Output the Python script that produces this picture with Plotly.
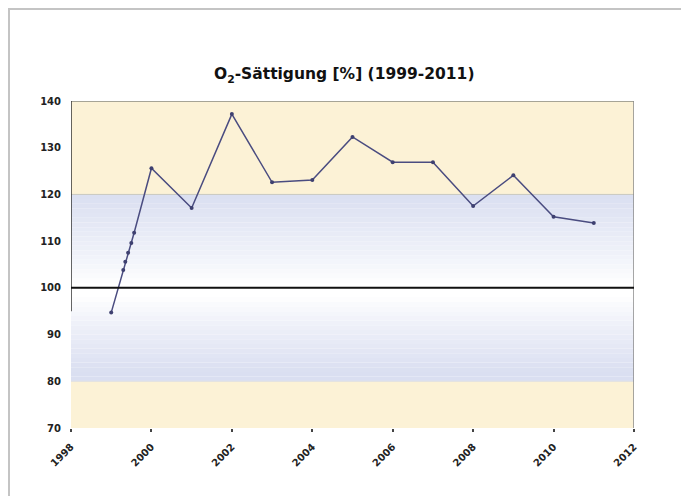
import plotly.graph_objects as go

years = [1999.0, 1999.3, 1999.35, 1999.42, 1999.5, 1999.57, 2000, 2001, 2002, 2003, 2004, 2005, 2006, 2007, 2008, 2009, 2010, 2011]
o2_sat = [94.7, 103.8, 105.6, 107.5, 109.6, 111.8, 125.6, 117.1, 137.2, 122.6, 123.1, 132.3, 126.9, 126.9, 117.5, 124.1, 115.2, 113.9]
y_ticks = [70, 80, 90, 100, 110, 120, 130, 140]
x_ticks = [1998, 2000, 2002, 2004, 2006, 2008, 2010, 2012]

X0, X1 = 1998, 2012
Y0, Y1 = 70, 140

fig = go.Figure()

shapes = []
yellow = "#FCF2D6"
shapes.append(dict(type="rect", xref="x", yref="y", x0=X0, x1=X1, y0=120, y1=140, fillcolor=yellow, line_width=0, layer="below"))
shapes.append(dict(type="rect", xref="x", yref="y", x0=X0, x1=X1, y0=70, y1=80, fillcolor=yellow, line_width=0, layer="below"))

blue = (218, 223, 241)
white = (255, 255, 255)
step = 1.0
v = 80.0
while v < 120:
    mid = v + step / 2
    if mid >= 100:
        t = min(1.0, max(0.0, (mid - 101) / 19.0))
    else:
        t = min(1.0, max(0.0, (98 - mid) / 16.0))
    t = t ** 0.8
    c = tuple(int(round(white[i] + (blue[i] - white[i]) * t)) for i in range(3))
    shapes.append(dict(type="rect", xref="x", yref="y", x0=X0, x1=X1, y0=v, y1=v + step,
                       fillcolor="rgb(%d,%d,%d)" % c, line_width=0, layer="below"))
    v += step

shapes.append(dict(type="line", xref="x", yref="y", x0=X0, x1=X1, y0=120, y1=120, line=dict(color="#C8C8C0", width=1), layer="below"))
shapes.append(dict(type="line", xref="x", yref="y", x0=X0, x1=X1, y0=80, y1=80, line=dict(color="#E0E0E0", width=1), layer="below"))
shapes.append(dict(type="line", xref="x", yref="y", x0=X0, x1=X1, y0=140, y1=140, line=dict(color="#8A8A80", width=1.5)))
shapes.append(dict(type="line", xref="x", yref="y", x0=X1, x1=X1, y0=Y0, y1=Y1, line=dict(color="#8A8A8A", width=1.5)))
shapes.append(dict(type="line", xref="x", yref="y", x0=X0, x1=X0, y0=95, y1=140, line=dict(color="#333333", width=1.5)))
shapes.append(dict(type="line", xref="x", yref="y", x0=X0, x1=X1, y0=100, y1=100, line=dict(color="#111111", width=2)))

# outer frame (plot area: figure x 63..626, y 93..420)
L, T, W, H = 63, 93, 563, 327
def px(xf):
    return (xf - L) / W
def py(yf):
    return (T + H - yf) / H
shapes.append(dict(type="rect", xref="paper", yref="paper", x0=px(1), x1=px(678), y0=py(500), y1=py(1),
                   line=dict(color="#C4C4C4", width=2), fillcolor="rgba(0,0,0,0)"))

fig.add_trace(go.Scatter(x=years, y=o2_sat, mode="lines+markers",
                         line=dict(color="#4A4C80", width=1.5),
                         marker=dict(color="#3E4070", size=4),
                         showlegend=False, hoverinfo="x+y"))

FONT = "DejaVu Sans"
fig.update_layout(
    width=689, height=496,
    margin=dict(l=L, r=689 - L - W, t=T, b=496 - T - H),
    paper_bgcolor="white", plot_bgcolor="white",
    shapes=shapes,
    title=dict(text="O<sub>2</sub>-Sättigung [%] (1999-2011)", x=0.488, xanchor="center",
               xref="container", y=0.867, yanchor="middle", yref="container",
               font=dict(family=FONT, size=15.5, color="#111111", weight="bold")),
    font=dict(family=FONT, color="#222222"),
    xaxis=dict(range=[X0, X1], tickvals=x_ticks, ticktext=[str(t) for t in x_ticks],
               tickangle=-45, showgrid=False, zeroline=False, showline=False,
               ticks="outside", ticklen=3, tickwidth=2, tickcolor="#444444",
               ticklabelstandoff=5,
               tickfont=dict(size=10, weight="bold", color="#222222")),
    yaxis=dict(range=[Y0, Y1], tickvals=y_ticks, showgrid=False, zeroline=False, showline=False,
               ticks="", ticklabelstandoff=9,
               tickfont=dict(size=10, weight="bold", color="#222222")),
)

fig.write_html("out.html")
